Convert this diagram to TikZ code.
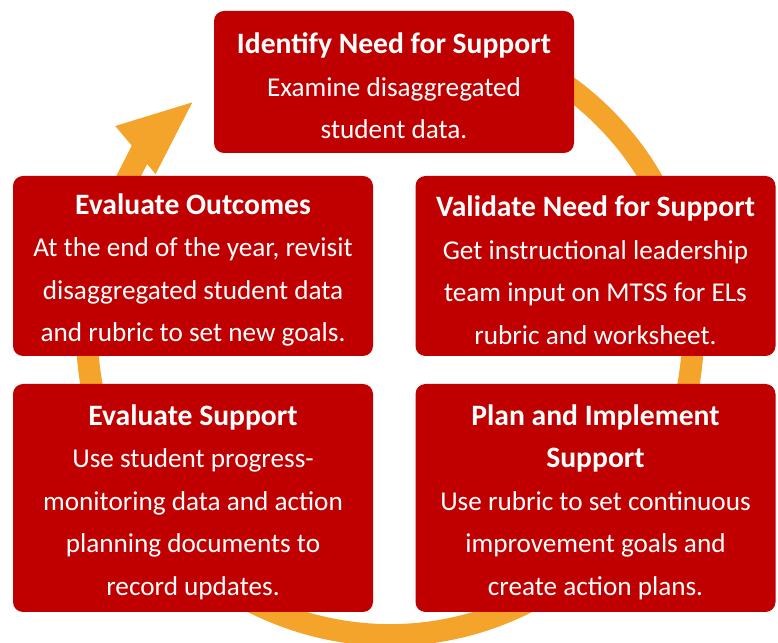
\documentclass[tikz,border=0pt]{standalone}
\usepackage{fontspec}
\setmainfont{Carlito}
\usetikzlibrary{arrows.meta}
\definecolor{boxred}{HTML}{C00000}
\definecolor{ringorange}{HTML}{F4A32B}
\newcommand{\stagetitle}[1]{{\fontsize{14.8}{21.25}\selectfont\bfseries\rule{0pt}{14.5pt}#1}}
\tikzset{
	stage/.style={fill=boxred, rounded corners=5pt, text=white, align=center,
		inner sep=0pt, minimum width=180pt, font=\fontsize{13.6}{21.25}\selectfont},
	ring/.style={draw=ringorange, line width=11pt, -{Triangle[length=39pt,width=28pt]}},
}

\begin{document}
\begin{tikzpicture}[x=0.5pt,y=0.5pt]
	\useasboundingbox (0,0) rectangle (778,643);
	% cycle ring behind the boxes
	\coordinate (ringstart) at (493.6,595.7);
	\draw[ring] (ringstart) arc[start angle=70, end angle=-230, radius=303];
	% stages
	\node[stage, minimum height=71pt] (identify) at (394,561)
		{\stagetitle{Identify Need for Support}\\Examine disaggregated\\student data.};
	\node[stage, minimum height=90pt] (outcomes) at (193,377)
		{\stagetitle{Evaluate Outcomes}\\At the end of the year, revisit\\disaggregated student data\\and rubric to set new goals.};
	\node[stage, minimum height=90pt] (validate) at (595.5,377)
		{\stagetitle{Validate Need for Support}\\Get instructional leadership\\team input on MTSS for ELs\\rubric and worksheet.};
	\node[stage, minimum height=114pt] (support) at (193,145)
		{\stagetitle{Evaluate Support}\\Use student progress-\\monitoring data and action\\planning documents to\\record updates.};
	\node[stage, minimum height=114pt] (plan) at (595.5,145)
		{\stagetitle{Plan and Implement}\\\stagetitle{Support}\\Use rubric to set continuous\\improvement goals and\\create action plans.};
\end{tikzpicture}
\end{document}
